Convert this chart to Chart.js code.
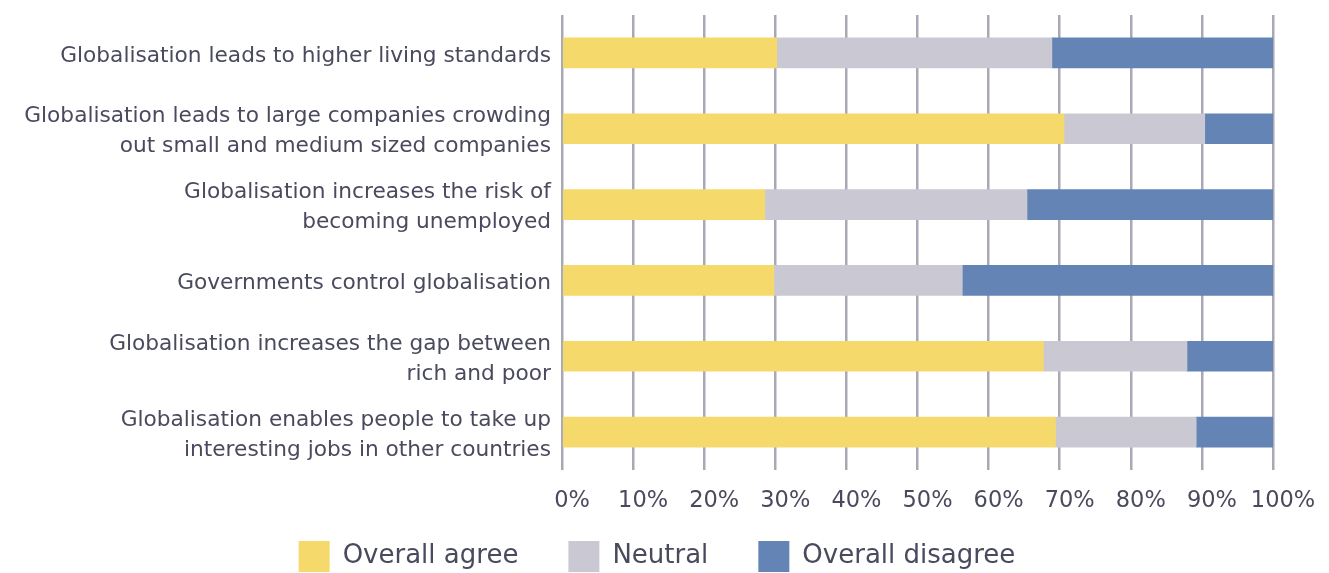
<!DOCTYPE html>
<html>
<head>
<meta charset="utf-8">
<script src="https://cdn.jsdelivr.net/npm/chart.js@4"></script>
<style>
    html, body { margin: 0; padding: 0; background: #fff; overflow: hidden; }
    #wrap { width: 1329px; height: 582px; }
</style>
</head>
<body>
<div id="wrap"><canvas id="chart"></canvas></div>
<script>
// Survey statements (y categories)
const statements = [
    ['Globalisation leads to higher living standards'],
    ['Globalisation leads to large companies crowding', 'out small and medium sized companies'],
    ['Globalisation increases the risk of', 'becoming unemployed'],
    ['Governments control globalisation'],
    ['Globalisation increases the gap between', 'rich and poor'],
    ['Globalisation enables people to take up', 'interesting jobs in other countries']
];

// Shares in percent
const agree = [30.2, 70.6, 28.5, 29.8, 67.7, 69.4];
const neutral = [38.7, 19.8, 36.9, 26.5, 20.2, 19.8];
const disagree = [31.1, 9.6, 34.6, 43.7, 12.1, 10.8];

const seriesNames = ['Overall agree', 'Neutral', 'Overall disagree'];

const colors = {
    agree: '#f5da6b',
    neutral: '#cac9d3',
    disagree: '#6484b5',
    grid: '#a9a8b6',
    text: '#4a4a5e'
};

const fontFamily = '"DejaVu Sans", sans-serif';

new Chart(document.getElementById('chart'), {
    type: 'bar',
    data: {
        labels: statements,
        datasets: [
            { label: seriesNames[0], data: agree, backgroundColor: colors.agree },
            { label: seriesNames[1], data: neutral, backgroundColor: colors.neutral },
            { label: seriesNames[2], data: disagree, backgroundColor: colors.disagree }
        ]
    },
    options: {
        indexAxis: 'y',
        responsive: true,
        maintainAspectRatio: false,
        animation: false,
        barThickness: 30,
        layout: {
            // left padding only nudges the legend to the right
            padding: { top: 15, right: 56, left: 41, bottom: 0 }
        },
        plugins: {
            tooltip: { enabled: false },
            legend: {
                position: 'bottom',
                labels: {
                    boxWidth: 31,
                    boxHeight: 31,
                    padding: 50,
                    color: colors.text,
                    font: { family: fontFamily, size: 26 }
                }
            }
        },
        scales: {
            x: {
                stacked: true,
                min: 0,
                max: 100,
                border: { display: false },
                grid: {
                    color: colors.grid,
                    lineWidth: 2.5,
                    drawTicks: false
                },
                ticks: {
                    stepSize: 10,
                    padding: 18,
                    labelOffset: 10,
                    color: colors.text,
                    font: { family: fontFamily, size: 22.5 },
                    callback: v => v + '%'
                },
                // labels hang down into the legend band, like the original,
                // so don't let the axis clip them to its own box
                afterFit: scale => {
                    scale.height = 21;
                    scale._computeLabelArea = () => undefined;
                }
            },
            y: {
                stacked: true,
                border: { display: false },
                grid: { display: false, drawTicks: false },
                ticks: {
                    padding: 11,
                    labelOffset: 3,
                    color: colors.text,
                    font: { family: fontFamily, size: 21.7, lineHeight: 1.38 }
                },
                afterFit: scale => {
                    scale.width = 521;
                    scale.paddingTop = 0;
                    scale.paddingBottom = 0;
                    scale._computeLabelArea = () => undefined;
                }
            }
        }
    }
});
</script>
</body>
</html>
